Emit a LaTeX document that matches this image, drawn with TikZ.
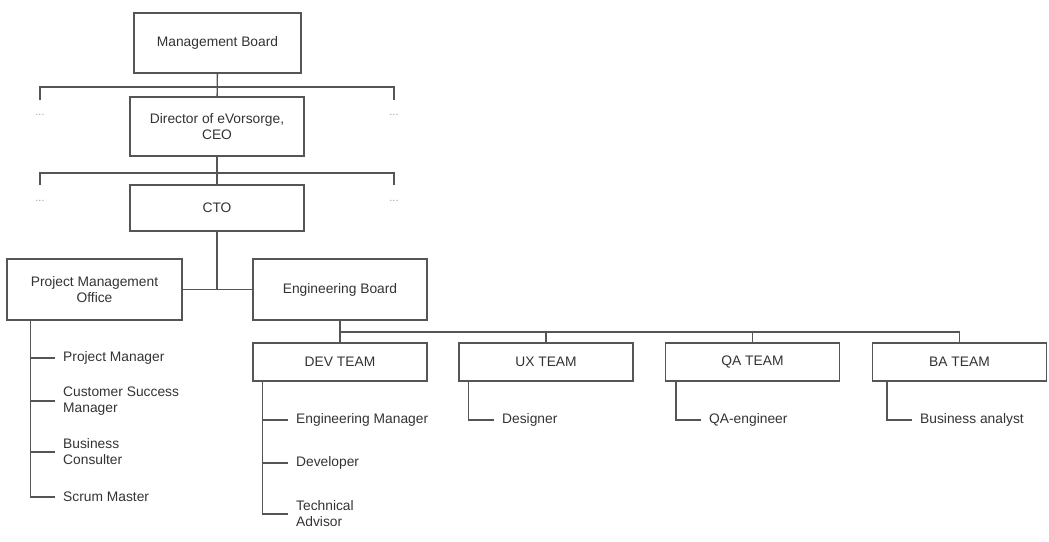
\documentclass[tikz,border=0pt]{standalone}
\usepackage{fontspec}
\setmainfont{Liberation Sans}
\definecolor{linegray}{HTML}{555555}
\definecolor{textgray}{HTML}{333333}
\tikzset{
  unit/.style={draw=linegray, line width=1.4pt, fill=white, inner sep=0pt,
    minimum width=174, align=center, text=textgray,
    font=\fontsize{13.8}{16}\selectfont},
  role/.style={anchor=west, inner xsep=8pt, inner ysep=1pt, align=left,
    text=textgray, font=\fontsize{13.8}{16}\selectfont},
  more/.style={text=gray!75, inner sep=0pt, font=\fontsize{11}{11}\selectfont},
  link/.style={draw=linegray, line width=1.4pt}
}
\begin{document}
\begin{tikzpicture}[x=1pt,y=-1pt]
    \useasboundingbox (0,0) rectangle (1049,541);

    % Top of the chart
    \node[unit, minimum width=167, minimum height=60] (mb) at (217.5,43) {Management Board};
    \node[unit, minimum height=59] (ceo) at (217,126.5) {Director of eVorsorge,\\CEO};
    \node[unit, minimum height=46] (cto) at (217,208) {CTO};

    % Other branches (not shown)
    \node[more] (dotsA1) at (40,115) {...};
    \node[more] (dotsA2) at (394,115) {...};
    \node[more] (dotsB1) at (40,201) {...};
    \node[more] (dotsB2) at (394,201) {...};
    \coordinate (barA) at (217,87);
    \coordinate (tipA1) at (40,100);
    \coordinate (tipA2) at (394,100);
    \coordinate (barB) at (217,173);
    \coordinate (tipB1) at (40,185);
    \coordinate (tipB2) at (394,185);

    \draw[link] (mb) -- (ceo);
    \draw[link] (tipA1) |- (barA) -| (tipA2);
    \draw[link] (ceo) -- (cto);
    \draw[link] (tipB1) |- (barB) -| (tipB2);

    % Second level
    \node[unit, minimum width=175, minimum height=61] (pmo) at (94.5,289.5) {Project Management\\Office};
    \node[unit, minimum height=61] (eb) at (340,289.5) {Engineering Board};
    \draw[link] (cto.south) -- (cto.south |- pmo.east);
    \draw[link] (pmo.east) -- (eb.west);

    % Teams
    \node[unit, minimum height=38] (dev) at (340,362) {DEV TEAM};
    \node[unit, minimum height=38] (ux) at (546,362) {UX TEAM};
    \node[unit, minimum height=38] (qa) at (752.5,362) {QA TEAM};
    \node[unit, minimum height=38] (ba) at (959.5,362) {BA TEAM};
    \coordinate (busE) at (340,332);
    \draw[link] (eb) -- (dev);
    \foreach \t in {ux,qa,ba}
        \draw[link] (busE) -| (\t.north);

    % Roles of the PMO
    \node[role] (pm) at (55,358) {Project Manager};
    \node[role] (csm) at (55,401) {Customer Success\\Manager};
    \node[role] (bc) at (55,452) {Business\\Consulter};
    \node[role] (sm) at (55,497) {Scrum Master};
    \foreach \r in {pm,csm,bc,sm}
        \draw[link] ([xshift=24]pmo.south west) |- (\r.west);

    % Roles of the teams
    \node[role] (em) at (288,420) {Engineering Manager};
    \node[role] (dv) at (288,463) {Developer};
    \node[role] (ta) at (288,514) {Technical\\Advisor};
    \foreach \r in {em,dv,ta}
        \draw[link] ([xshift=10]dev.south west) |- (\r.west);
    \node[role] (ds) at (494,420) {Designer};
    \draw[link] ([xshift=10]ux.south west) |- (ds.west);
    \node[role] (qae) at (701,420) {QA-engineer};
    \draw[link] ([xshift=11]qa.south west) |- (qae.west);
    \node[role] (ban) at (912,420) {Business analyst};
    \draw[link] ([xshift=15]ba.south west) |- (ban.west);
\end{tikzpicture}
\end{document}
